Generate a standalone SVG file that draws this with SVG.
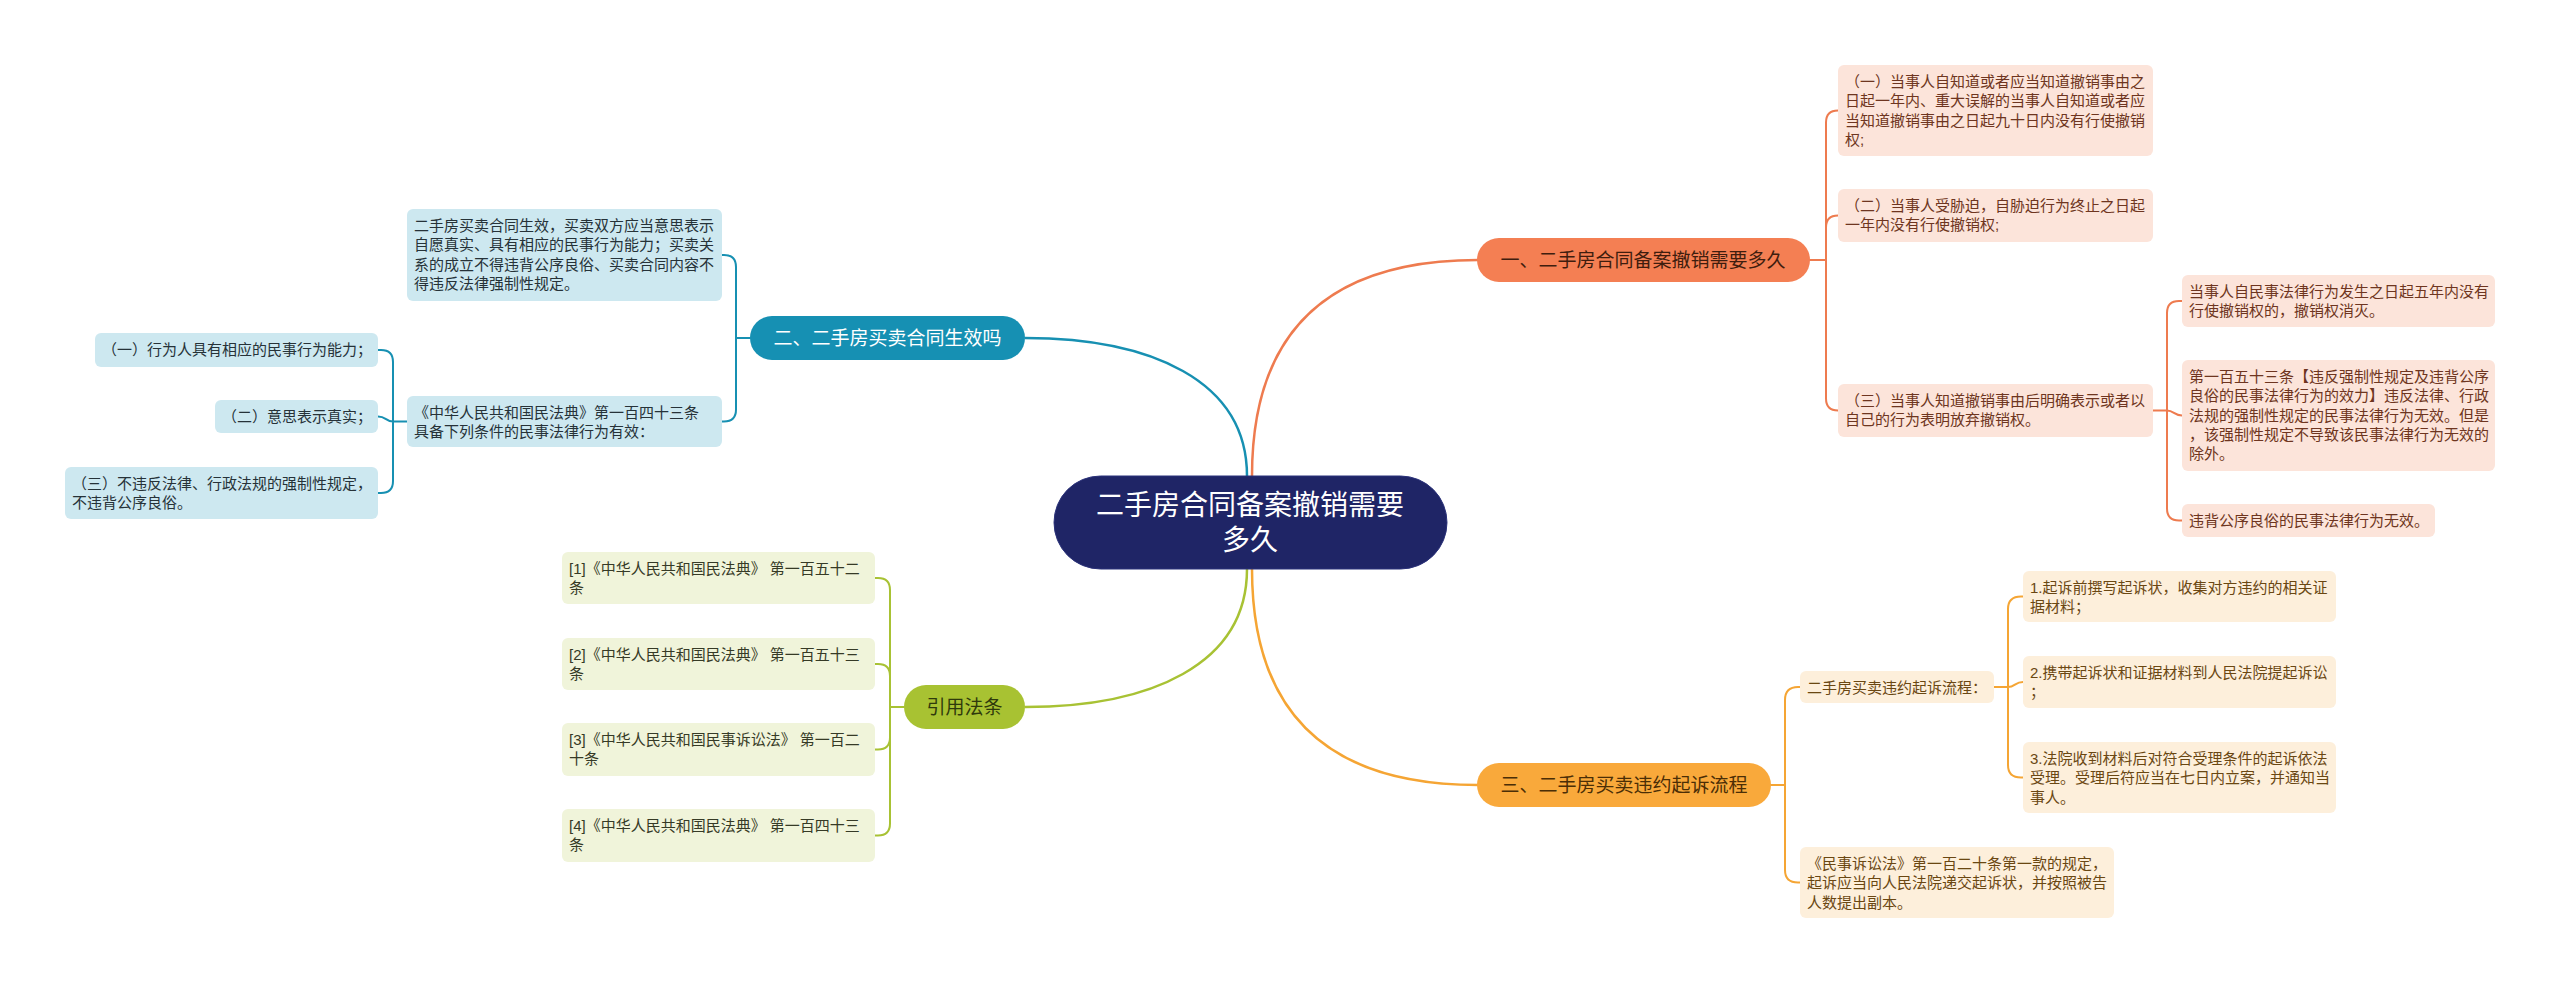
<svg xmlns="http://www.w3.org/2000/svg" width="2560" height="983" viewBox="0 0 2560 983">
<style>
text{font-family:"Liberation Sans","Noto Sans CJK SC",sans-serif}
.s{font-size:15px}
.m{font-size:19px}
.c{font-size:28px;fill:#fff;text-anchor:middle}
.mid{text-anchor:middle}
.lk{fill:none;stroke-width:2;stroke-linecap:round}
.lm{fill:none;stroke-width:2.5}
.o{stroke:#EE7B4F}.a{stroke:#F5A534}.b{stroke:#1790B2}.g{stroke:#A8C234}
.bo{fill:#FCE4DA}.ba{fill:#FDEFDB}.bb{fill:#CDE8F0}.bg{fill:#F0F4DA}
.to{fill:#6e3520}.ta{fill:#6a4712}.tb{fill:#263238}.tg{fill:#363a26}
</style>
<rect width="2560" height="983" fill="#fff"/>
<g id="connectors">
<path class="lm o" d="M1252 476 C1252 330 1330 260 1478 260"/>
<path class="lm a" d="M1252 569 C1252 715 1330 785 1478 785"/>
<path class="lm b" d="M1247 476 C1247 380 1150 338 1025 338"/>
<path class="lm g" d="M1247 569 C1247 665 1150 707 1025 707"/>
<path class="lk o" d="M1810 260 H1826 M1826 260 V122.5 Q1826 110.5 1838 110.5 M1826 260 V227.5 Q1826 215.5 1838 215.5 M1826 260 V398.5 Q1826 410.5 1838 410.5"/>
<path class="lk o" d="M2153 410.5 H2167 M2167 410.5 V313 Q2167 301 2179 301 H2182 M2167 410.5 C2174 410.5 2174 415.5 2182 415.5 M2167 410.5 V508.5 Q2167 520.5 2179 520.5 H2182"/>
<path class="lk a" d="M1771 785 H1785 M1785 785 V700 Q1785 687 1798 687 H1800 M1785 785 V870 Q1785 882.5 1798 882.5 H1800"/>
<path class="lk a" d="M1994 687 H2008 M2008 687 V609 Q2008 596.5 2021 596.5 H2023 M2008 687 C2015 687 2015 682 2023 682 M2008 687 V765 Q2008 777.5 2021 777.5 H2023"/>
<path class="lk b" d="M750 338 H736 M736 338 V267 Q736 255 724 255 H722 M736 338 V409.5 Q736 421.5 724 421.5 H722"/>
<path class="lk b" d="M407 421.5 H393 M393 421.5 V362 Q393 350 381 350 H378 M393 421.5 C386 421.5 386 416.5 378 416.5 M393 421.5 V481 Q393 493 381 493 H378"/>
<path class="lk g" d="M904 707 H890 M890 707 V590 Q890 578 878 578 H875 M890 707 V676 Q890 664 878 664 H875 M890 707 V737.5 Q890 749.5 878 749.5 H875 M890 707 V823.5 Q890 835.5 878 835.5 H875"/>
</g>
<g id="center">
<rect x="1054" y="476" width="393" height="93" rx="46.5" fill="#1F2566" stroke="#2B327A" stroke-width="1"/>
<text class="c" x="1250" y="515">二手房合同备案撤销需要</text>
<text class="c" x="1250" y="550">多久</text>
</g>
<g id="n1">
<rect x="1477" y="238" width="333" height="44" rx="22" fill="#F47F53"/>
<text class="m mid" x="1643" y="267" fill="#3f1d0e">一、二手房合同备案撤销需要多久</text>
</g>
<g id="n1-1">
<rect class="bo" x="1838" y="65" width="315" height="91" rx="6"/>
<text class="s to" x="1845"><tspan x="1845" y="87">（一）当事人自知道或者应当知道撤销事由之</tspan><tspan x="1845" y="106.3">日起一年内、重大误解的当事人自知道或者应</tspan><tspan x="1845" y="125.6">当知道撤销事由之日起九十日内没有行使撤销</tspan><tspan x="1845" y="144.9">权;</tspan></text>
</g>
<g id="n1-2">
<rect class="bo" x="1838" y="189" width="315" height="53" rx="6"/>
<text class="s to"><tspan x="1845" y="211">（二）当事人受胁迫，自胁迫行为终止之日起</tspan><tspan x="1845" y="230.3">一年内没有行使撤销权;</tspan></text>
</g>
<g id="n1-3">
<rect class="bo" x="1838" y="384" width="315" height="53" rx="6"/>
<text class="s to"><tspan x="1845" y="406">（三）当事人知道撤销事由后明确表示或者以</tspan><tspan x="1845" y="425.3">自己的行为表明放弃撤销权。</tspan></text>
</g>
<g id="n1-3-1">
<rect class="bo" x="2182" y="275" width="313" height="52" rx="6"/>
<text class="s to"><tspan x="2189" y="297">当事人自民事法律行为发生之日起五年内没有</tspan><tspan x="2189" y="316.3">行使撤销权的，撤销权消灭。</tspan></text>
</g>
<g id="n1-3-2">
<rect class="bo" x="2182" y="360" width="313" height="111" rx="6"/>
<text class="s to"><tspan x="2189" y="382">第一百五十三条【违反强制性规定及违背公序</tspan><tspan x="2189" y="401.3">良俗的民事法律行为的效力】违反法律、行政</tspan><tspan x="2189" y="420.6">法规的强制性规定的民事法律行为无效。但是</tspan><tspan x="2189" y="439.9">，该强制性规定不导致该民事法律行为无效的</tspan><tspan x="2189" y="459.2">除外。</tspan></text>
</g>
<g id="n1-3-3">
<rect class="bo" x="2182" y="504" width="253" height="33" rx="6"/>
<text class="s to" x="2189" y="526">违背公序良俗的民事法律行为无效。</text>
</g>
<g id="n3">
<rect x="1477" y="763" width="294" height="44" rx="22" fill="#F9A93B"/>
<text class="m mid" x="1624" y="792" fill="#4b2e06">三、二手房买卖违约起诉流程</text>
</g>
<g id="n3-1">
<rect class="ba" x="1800" y="671" width="194" height="32" rx="6"/>
<text class="s ta" x="1807" y="692.5">二手房买卖违约起诉流程：</text>
</g>
<g id="n3-1-1">
<rect class="ba" x="2023" y="571" width="313" height="51" rx="6"/>
<text class="s ta"><tspan x="2030" y="592.5">1.起诉前撰写起诉状，收集对方违约的相关证</tspan><tspan x="2030" y="611.8">据材料；</tspan></text>
</g>
<g id="n3-1-2">
<rect class="ba" x="2023" y="656" width="313" height="52" rx="6"/>
<text class="s ta"><tspan x="2030" y="678">2.携带起诉状和证据材料到人民法院提起诉讼</tspan><tspan x="2030" y="697.3">；</tspan></text>
</g>
<g id="n3-1-3">
<rect class="ba" x="2023" y="742" width="313" height="71" rx="6"/>
<text class="s ta"><tspan x="2030" y="764">3.法院收到材料后对符合受理条件的起诉依法</tspan><tspan x="2030" y="783.3">受理。受理后符应当在七日内立案，并通知当</tspan><tspan x="2030" y="802.6">事人。</tspan></text>
</g>
<g id="n3-2">
<rect class="ba" x="1800" y="847" width="314" height="71" rx="6"/>
<text class="s ta"><tspan x="1807" y="869">《民事诉讼法》第一百二十条第一款的规定，</tspan><tspan x="1807" y="888.3">起诉应当向人民法院递交起诉状，并按照被告</tspan><tspan x="1807" y="907.6">人数提出副本。</tspan></text>
</g>
<g id="n2">
<rect x="750" y="316" width="275" height="44" rx="22" fill="#1690B3"/>
<text class="m mid" x="887.5" y="345" fill="#fff">二、二手房买卖合同生效吗</text>
</g>
<g id="n2-1">
<rect class="bb" x="407" y="209" width="315" height="92" rx="6"/>
<text class="s tb"><tspan x="414" y="231">二手房买卖合同生效，买卖双方应当意思表示</tspan><tspan x="414" y="250.3">自愿真实、具有相应的民事行为能力；买卖关</tspan><tspan x="414" y="269.6">系的成立不得违背公序良俗、买卖合同内容不</tspan><tspan x="414" y="288.9">得违反法律强制性规定。</tspan></text>
</g>
<g id="n2-2">
<rect class="bb" x="407" y="396" width="315" height="51" rx="6"/>
<text class="s tb"><tspan x="414" y="417.5">《中华人民共和国民法典》第一百四十三条</tspan><tspan x="414" y="436.8">具备下列条件的民事法律行为有效：</tspan></text>
</g>
<g id="n2-2-1">
<rect class="bb" x="95" y="333" width="283" height="34" rx="6"/>
<text class="s tb" x="102" y="355">（一）行为人具有相应的民事行为能力；</text>
</g>
<g id="n2-2-2">
<rect class="bb" x="215" y="400" width="163" height="33" rx="6"/>
<text class="s tb" x="222" y="422">（二）意思表示真实；</text>
</g>
<g id="n2-2-3">
<rect class="bb" x="65" y="467" width="313" height="52" rx="6"/>
<text class="s tb"><tspan x="72" y="489">（三）不违反法律、行政法规的强制性规定，</tspan><tspan x="72" y="508.3">不违背公序良俗。</tspan></text>
</g>
<g id="n4">
<rect x="904" y="685" width="121" height="44" rx="22" fill="#A8C232"/>
<text class="m mid" x="964.5" y="714" fill="#2f3a0c">引用法条</text>
</g>
<g id="n4-1">
<rect class="bg" x="562" y="552" width="313" height="52" rx="6"/>
<text class="s tg"><tspan x="569" y="574">[1]《中华人民共和国民法典》 第一百五十二</tspan><tspan x="569" y="593.3">条</tspan></text>
</g>
<g id="n4-2">
<rect class="bg" x="562" y="638" width="313" height="52" rx="6"/>
<text class="s tg"><tspan x="569" y="660">[2]《中华人民共和国民法典》 第一百五十三</tspan><tspan x="569" y="679.3">条</tspan></text>
</g>
<g id="n4-3">
<rect class="bg" x="562" y="723" width="313" height="53" rx="6"/>
<text class="s tg"><tspan x="569" y="745">[3]《中华人民共和国民事诉讼法》 第一百二</tspan><tspan x="569" y="764.3">十条</tspan></text>
</g>
<g id="n4-4">
<rect class="bg" x="562" y="809" width="313" height="53" rx="6"/>
<text class="s tg"><tspan x="569" y="831">[4]《中华人民共和国民法典》 第一百四十三</tspan><tspan x="569" y="850.3">条</tspan></text>
</g>
</svg>
